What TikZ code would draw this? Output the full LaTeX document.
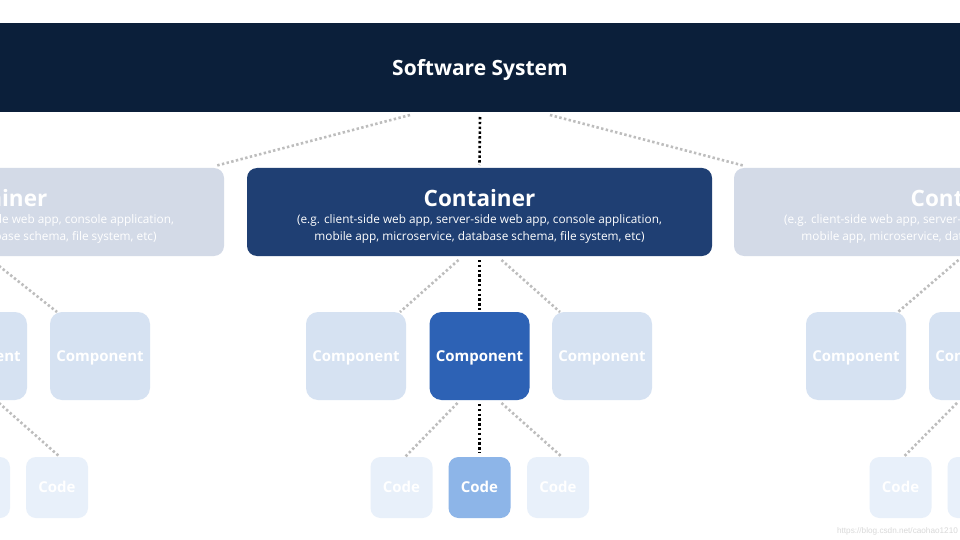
\documentclass[tikz,border=0pt]{standalone}
\usepackage{fontspec}
\setmainfont{Open Sans}
\newfontfamily\wmfont{Liberation Sans}
\definecolor{navy}{HTML}{0B1F3A}
\definecolor{contDark}{HTML}{1F3F73}
\definecolor{contLight}{HTML}{D3DAE7}
\definecolor{compDark}{HTML}{2D62B5}
\definecolor{compLight}{HTML}{D6E2F2}
\definecolor{codeDark}{HTML}{8DB5E8}
\definecolor{codeLight}{HTML}{E8F0FA}
\definecolor{dotgray}{HTML}{BDBDBD}
\tikzset{
  boxbase/.style={inner sep=0pt, outer sep=0pt, draw=none},
  contbox/.style={boxbase, rounded corners=10pt, minimum width=465pt, minimum height=88pt},
  compbox/.style={boxbase, rounded corners=12pt, minimum width=100pt, minimum height=88pt,
    text=white, text height=10.8pt, text depth=0pt, font=\fontsize{15}{17}\selectfont\bfseries},
  codebox/.style={boxbase, rounded corners=10pt, minimum width=62pt, minimum height=61pt,
    text=white, text height=10.8pt, text depth=0pt, font=\fontsize{15}{17}\selectfont\bfseries},
  ttl/.style={text=white, inner sep=0pt, font=\fontsize{22.5}{26}\selectfont\bfseries},
  sub/.style={text=white, inner sep=0pt, align=center, font=\fontsize{11.8}{17}\selectfont},
  blackdot/.style={draw=black, line width=2.6pt, dash pattern=on 2.4pt off 2.4pt},
  graydot/.style={draw=dotgray, line width=2.6pt, dash pattern=on 2.4pt off 2.4pt},
}
\begin{document}
\begin{tikzpicture}[x=1pt,y=-1pt]
\clip (0,0) rectangle (960,540);
\fill[white] (0,0) rectangle (960,540);
% top band
\node[boxbase, fill=navy, minimum width=980pt, minimum height=89pt] (sys) at (480,67.5) {};
\node[text=white, inner sep=0pt, font=\fontsize{21}{25}\selectfont\bfseries] (syst) at (480,69.5) {Software System};
% containers
\node[contbox, fill=contLight] (cL) at (-8.5,212) {};
\node[contbox, fill=contDark] (cC) at (479.5,212) {};
\node[contbox, fill=contLight] (cR) at (966.5,212) {};
\foreach \n/\x in {cL/-8.5, cC/479.5, cR/966.5}{
  \node[ttl] (\n t) at (\x,198.5) {Container};
  \node[sub] (\n s) at (\x,228.5) {(e.g. client-side web app, server-side web app, console application,\\mobile app, microservice, database schema, file system, etc)};
}
% components
\node[compbox, fill=compLight] (pL1) at (-23,356) {Component};
\node[compbox, fill=compLight] (pL2) at (100,356) {Component};
\node[compbox, fill=compLight] (pC1) at (356,356) {Component};
\node[compbox, fill=compDark] (pC2) at (479.5,356) {Component};
\node[compbox, fill=compLight] (pC3) at (602,356) {Component};
\node[compbox, fill=compLight] (pR1) at (856,356) {Component};
\node[compbox, fill=compLight] (pR2) at (979,356) {Component};
% code
\node[codebox, fill=codeLight] (kL1) at (-21,487.5) {Code};
\node[codebox, fill=codeLight] (kL2) at (57,487.5) {Code};
\node[codebox, fill=codeLight] (kC1) at (401.5,487.5) {Code};
\node[codebox, fill=codeDark] (kC2) at (479.5,487.5) {Code};
\node[codebox, fill=codeLight] (kC3) at (558,487.5) {Code};
\node[codebox, fill=codeLight] (kR1) at (900.5,487.5) {Code};
\node[codebox, fill=codeLight] (kR2) at (978.5,487.5) {Code};
% connectors
\draw[blackdot] ([yshift=-5pt]sys.south) -- ([yshift=3pt]cC.north);
\draw[graydot] ([xshift=-70pt,yshift=-3pt]sys.south) -- ([xshift=-9pt,yshift=2pt]cL.north east);
\draw[graydot] ([xshift=70pt,yshift=-3pt]sys.south) -- ([xshift=11pt,yshift=2pt]cR.north west);
\draw[blackdot] ([yshift=-4pt]cC.south) -- ([yshift=2pt]pC2.north);
\draw[graydot] ([xshift=-21pt,yshift=-4pt]cC.south) -- ([xshift=-6pt]pC1.north east);
\draw[graydot] ([xshift=22pt,yshift=-4pt]cC.south) -- ([xshift=8pt]pC3.north west);
\draw[blackdot] ([yshift=-4pt]pC2.south) -- ([yshift=4pt]kC2.north);
\draw[graydot] ([xshift=-22pt,yshift=-3pt]pC2.south) -- ([xshift=3.5pt]kC1.north);
\draw[graydot] ([xshift=22pt,yshift=-3pt]pC2.south) -- ([xshift=4pt]kC3.north);
\draw[graydot] ([yshift=-4pt]cL.south) -- ([xshift=7pt]pL2.north west);
\draw[graydot] ([xshift=22pt,yshift=-3pt]pL1.south) -- ([xshift=3pt]kL2.north);
\draw[graydot] ([xshift=-8pt,yshift=-4pt]cR.south) -- ([xshift=-8pt]pR1.north east);
\draw[graydot] ([xshift=-22pt,yshift=-3pt]pR2.south) -- ([xshift=3pt]kR1.north);
% watermark
\node[text=black!15, inner sep=0pt, font=\wmfont\fontsize{8.2}{10}\selectfont] (wm) at (897.5,531) {https://blog.csdn.net/caohao1210};
\end{tikzpicture}
\end{document}
